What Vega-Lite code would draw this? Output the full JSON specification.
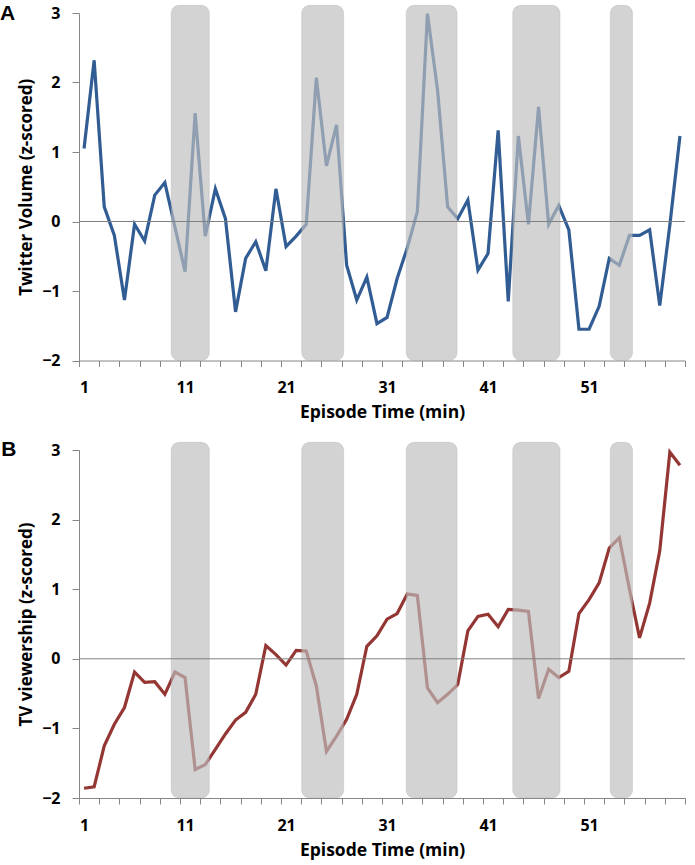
{
  "$schema": "https://vega.github.io/schema/vega-lite/v6.json",
  "padding": {"left": 0, "top": 3, "right": 5, "bottom": 5},
  "background": "white",
  "spacing": 18,
  "config": {
    "view": {"stroke": null},
    "font": "Open Sans",
    "axis": {
      "grid": false,
      "domainColor": "#868686",
      "tickColor": "#868686",
      "labelFont": "Open Sans",
      "labelFontSize": 16,
      "labelFontWeight": "bold",
      "labelColor": "#000000",
      "titleFont": "Open Sans",
      "titleFontWeight": "bold",
      "titleColor": "#000000"
    },
    "axisX": {"titleFontSize": 17.5},
    "axisY": {"titleFontSize": 17}
  },
  "datasets": {
    "twitter": [
      {"t":1,"v":1.05},{"t":2,"v":2.32},{"t":3,"v":0.21},{"t":4,"v":-0.20},{"t":5,"v":-1.13},
      {"t":6,"v":-0.04},{"t":7,"v":-0.28},{"t":8,"v":0.38},{"t":9,"v":0.56},{"t":10,"v":-0.08},
      {"t":11,"v":-0.72},{"t":12,"v":1.56},{"t":13,"v":-0.21},{"t":14,"v":0.47},{"t":15,"v":0.04},
      {"t":16,"v":-1.30},{"t":17,"v":-0.53},{"t":18,"v":-0.29},{"t":19,"v":-0.71},{"t":20,"v":0.47},
      {"t":21,"v":-0.36},{"t":22,"v":-0.21},{"t":23,"v":-0.04},{"t":24,"v":2.07},{"t":25,"v":0.80},
      {"t":26,"v":1.39},{"t":27,"v":-0.63},{"t":28,"v":-1.13},{"t":29,"v":-0.80},{"t":30,"v":-1.47},
      {"t":31,"v":-1.38},{"t":32,"v":-0.82},{"t":33,"v":-0.38},{"t":34,"v":0.14},{"t":35,"v":2.99},
      {"t":36,"v":1.89},{"t":37,"v":0.21},{"t":38,"v":0.04},{"t":39,"v":0.31},{"t":40,"v":-0.70},
      {"t":41,"v":-0.46},{"t":42,"v":1.31},{"t":43,"v":-1.15},{"t":44,"v":1.23},{"t":45,"v":-0.04},
      {"t":46,"v":1.65},{"t":47,"v":-0.04},{"t":48,"v":0.23},{"t":49,"v":-0.12},{"t":50,"v":-1.55},
      {"t":51,"v":-1.55},{"t":52,"v":-1.22},{"t":53,"v":-0.53},{"t":54,"v":-0.63},{"t":55,"v":-0.20},
      {"t":56,"v":-0.20},{"t":57,"v":-0.12},{"t":58,"v":-1.21},{"t":59,"v":-0.05},{"t":60,"v":1.23}
    ],
    "tv": [
      {"t":1,"v":-1.86},{"t":2,"v":-1.84},{"t":3,"v":-1.25},{"t":4,"v":-0.94},{"t":5,"v":-0.70},
      {"t":6,"v":-0.19},{"t":7,"v":-0.34},{"t":8,"v":-0.33},{"t":9,"v":-0.51},{"t":10,"v":-0.19},
      {"t":11,"v":-0.27},{"t":12,"v":-1.59},{"t":13,"v":-1.52},{"t":14,"v":-1.30},{"t":15,"v":-1.08},
      {"t":16,"v":-0.88},{"t":17,"v":-0.77},{"t":18,"v":-0.51},{"t":19,"v":0.19},{"t":20,"v":0.06},
      {"t":21,"v":-0.09},{"t":22,"v":0.12},{"t":23,"v":0.11},{"t":24,"v":-0.39},{"t":25,"v":-1.33},
      {"t":26,"v":-1.11},{"t":27,"v":-0.87},{"t":28,"v":-0.51},{"t":29,"v":0.18},{"t":30,"v":0.33},
      {"t":31,"v":0.57},{"t":32,"v":0.65},{"t":33,"v":0.93},{"t":34,"v":0.91},{"t":35,"v":-0.42},
      {"t":36,"v":-0.63},{"t":37,"v":-0.51},{"t":38,"v":-0.37},{"t":39,"v":0.40},{"t":40,"v":0.61},
      {"t":41,"v":0.64},{"t":42,"v":0.46},{"t":43,"v":0.71},{"t":44,"v":0.70},{"t":45,"v":0.68},
      {"t":46,"v":-0.57},{"t":47,"v":-0.15},{"t":48,"v":-0.27},{"t":49,"v":-0.18},{"t":50,"v":0.65},
      {"t":51,"v":0.85},{"t":52,"v":1.09},{"t":53,"v":1.59},{"t":54,"v":1.74},{"t":55,"v":1.00},
      {"t":56,"v":0.30},{"t":57,"v":0.80},{"t":58,"v":1.55},{"t":59,"v":2.97},{"t":60,"v":2.78}
    ],
    "bands": [
      {"start":9.63,"end":13.4,"top":3.11},
      {"start":22.55,"end":26.7,"top":3.11},
      {"start":32.9,"end":37.93,"top":3.11},
      {"start":43.45,"end":48.12,"top":3.11},
      {"start":53.1,"end":55.3,"top":3.11}
    ]
  },
  "vconcat": [
    {
      "width": 606,
      "height": 347.5,
      "resolve": {"axis": {"x": "independent"}},
      "layer": [
        {
          "data": {"name": "twitter"},
          "mark": {"type": "line", "color": "#315D94", "strokeWidth": 3.2},
          "encoding": {
            "x": {
              "field": "t", "type": "quantitative",
              "scale": {"domain": [0.5, 60.5], "nice": false, "zero": false},
              "title": "Episode Time (min)",
              "axis": {"orient": "bottom", "values": [1,11,21,31,41,51], "tickOpacity": 0, "tickSize": 6, "labelFlush": false, "labelOverlap": false, "labelPadding": 13, "titlePadding": 8}
            },
            "y": {
              "field": "v", "type": "quantitative",
              "scale": {"domain": [-2, 3], "nice": false, "zero": false},
              "title": "Twitter Volume (z-scored)",
              "axis": {"values": [-2,-1,0,1,2,3], "format": "d", "tickSize": 7, "labelPadding": 12, "titlePadding": 6}
            }
          }
        },
        {
          "data": {"name": "bands"},
          "mark": {"type": "rect", "color": "#bebebe", "opacity": 0.67, "cornerRadius": 8, "stroke": "#9a9a9a", "strokeOpacity": 0.45, "strokeWidth": 1},
          "encoding": {
            "x": {
              "field": "start", "type": "quantitative",
              "axis": {"orient": "bottom", "values": [0.5,2.5,4.5,6.5,8.5,10.5,12.5,14.5,16.5,18.5,20.5,22.5,24.5,26.5,28.5,30.5,32.5,34.5,36.5,38.5,40.5,42.5,44.5,46.5,48.5,50.5,52.5,54.5,56.5,58.5,60.5], "labels": false, "domain": false, "title": null, "tickSize": 6}
            },
            "x2": {"field": "end"},
            "y": {"field": "top", "type": "quantitative"},
            "y2": {"datum": -2}
          }
        },
        {
          "data": {"values": [{"z": 0}]},
          "mark": {"type": "rule", "color": "#808080", "strokeWidth": 1},
          "encoding": {"y": {"field": "z", "type": "quantitative"}}
        },
        {
          "data": {"values": [{"panel": "A"}]},
          "mark": {"type": "text", "font": "Liberation Sans", "fontSize": 21, "fontWeight": "bold", "align": "left", "baseline": "alphabetic", "color": "#000000"},
          "encoding": {
            "x": {"datum": -7.32, "axis": null},
            "y": {"datum": 2.895},
            "text": {"field": "panel"}
          }
        }
      ]
    },
    {
      "width": 606,
      "height": 348,
      "resolve": {"axis": {"x": "independent"}},
      "layer": [
        {
          "data": {"name": "tv"},
          "mark": {"type": "line", "color": "#943634", "strokeWidth": 3.2},
          "encoding": {
            "x": {
              "field": "t", "type": "quantitative",
              "scale": {"domain": [0.5, 60.5], "nice": false, "zero": false},
              "title": "Episode Time (min)",
              "axis": {"orient": "bottom", "values": [1,11,21,31,41,51], "tickOpacity": 0, "tickSize": 6, "labelFlush": false, "labelOverlap": false, "labelPadding": 13, "titlePadding": 8}
            },
            "y": {
              "field": "v", "type": "quantitative",
              "scale": {"domain": [-2, 3], "nice": false, "zero": false},
              "title": "TV viewership (z-scored)",
              "axis": {"values": [-2,-1,0,1,2,3], "format": "d", "tickSize": 7, "labelPadding": 12, "titlePadding": 6}
            }
          }
        },
        {
          "data": {"name": "bands"},
          "mark": {"type": "rect", "color": "#bebebe", "opacity": 0.67, "cornerRadius": 8, "stroke": "#9a9a9a", "strokeOpacity": 0.45, "strokeWidth": 1},
          "encoding": {
            "x": {
              "field": "start", "type": "quantitative",
              "axis": {"orient": "bottom", "values": [0.5,2.5,4.5,6.5,8.5,10.5,12.5,14.5,16.5,18.5,20.5,22.5,24.5,26.5,28.5,30.5,32.5,34.5,36.5,38.5,40.5,42.5,44.5,46.5,48.5,50.5,52.5,54.5,56.5,58.5,60.5], "labels": false, "domain": false, "title": null, "tickSize": 6}
            },
            "x2": {"field": "end"},
            "y": {"field": "top", "type": "quantitative"},
            "y2": {"datum": -2}
          }
        },
        {
          "data": {"values": [{"z": 0}]},
          "mark": {"type": "rule", "color": "#808080", "strokeWidth": 1},
          "encoding": {"y": {"field": "z", "type": "quantitative"}}
        },
        {
          "data": {"values": [{"panel": "B"}]},
          "mark": {"type": "text", "font": "Liberation Sans", "fontSize": 21, "fontWeight": "bold", "align": "left", "baseline": "alphabetic", "color": "#000000"},
          "encoding": {
            "x": {"datum": -7.2, "axis": null},
            "y": {"datum": 2.91},
            "text": {"field": "panel"}
          }
        }
      ]
    }
  ]
}
